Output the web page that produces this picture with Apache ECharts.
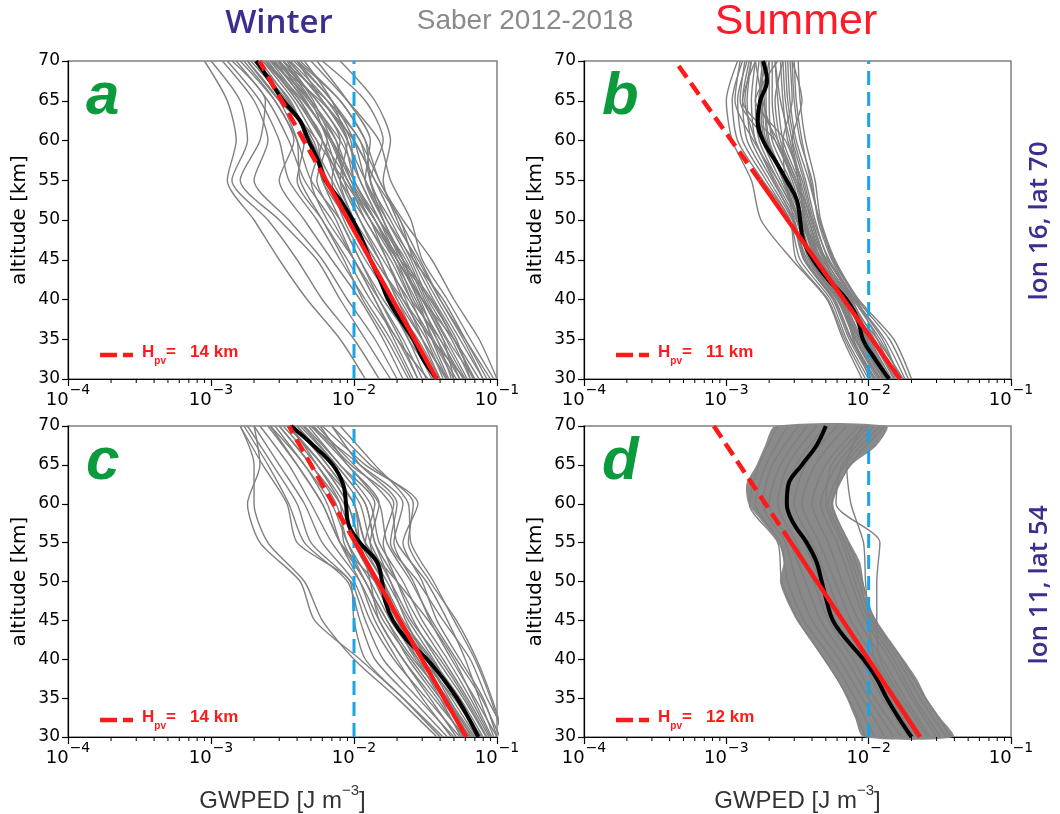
<!DOCTYPE html>
<html>
<head>
<meta charset="utf-8">
<script src="https://cdn.jsdelivr.net/npm/echarts@6/dist/echarts.min.js"></script>
<style>
  html, body { margin: 0; padding: 0; background: #fff; }
  #chart { width: 1060px; height: 814px; }
</style>
</head>
<body>
<div id="chart"></div>
<script>
// Altitude grids (km) for the individual profiles and for the mean profiles / band
const altitudes = [30, 35, 40, 45, 50, 55, 60, 65, 70];
const altitudesFine = [30, 32.5, 35, 37.5, 40, 42.5, 45, 47.5, 50, 52.5, 55, 57.5, 60, 62.5, 65, 67.5, 70];

// x-axis decades and minor tick values (J m^-3)
const majorTicks = [1e-4, 1e-3, 1e-2, 1e-1];
const minorTicks = [2e-4, 3e-4, 4e-4, 5e-4, 6e-4, 7e-4, 8e-4, 9e-4,
                    2e-3, 3e-3, 4e-3, 5e-3, 6e-3, 7e-3, 8e-3, 9e-3,
                    2e-2, 3e-2, 4e-2, 5e-2, 6e-2, 7e-2, 8e-2, 9e-2];
const altTicks = [30, 35, 40, 45, 50, 55, 60, 65, 70];

// Reference GWPED level
const threshold = 1e-2;

// Scale-height fits: GWPED at 30 km, scale height H (km); solid below knee, dashed above
const fitBase = [38e-3, 16.6e-3, 61e-3, 22.9e-3];
const scaleHeights = [14, 11, 14, 12];
const fitKnee = 55;
const fitBottom = 30;
const fitTop = 70;

// Mean profiles on altitudesFine
const meanA = [38e-3, 30.4e-3, 26e-3, 21e-3, 17.3e-3, 15.2e-3, 13e-3, 11.4e-3, 9.8e-3, 8.0e-3, 6.3e-3, 5.6e-3, 4.8e-3, 4.19e-3, 3.2e-3, 2.59e-3, 2.07e-3];
const meanB = [13.9e-3, 11.1e-3, 9.1e-3, 8.4e-3, 7.0e-3, 5.19e-3, 4.07e-3, 3.47e-3, 3.3e-3, 3.13e-3, 2.65e-3, 2.2e-3, 1.81e-3, 1.66e-3, 1.73e-3, 1.93e-3, 1.81e-3];
const meanC = [74e-3, 63e-3, 52.5e-3, 42e-3, 32.4e-3, 23.4e-3, 18.7e-3, 16.5e-3, 15.7e-3, 14.5e-3, 11e-3, 9.1e-3, 8.8e-3, 8.4e-3, 7.1e-3, 5.2e-3, 3.63e-3];
const meanD = [20e-3, 16.2e-3, 13.4e-3, 11.4e-3, 9.2e-3, 7.0e-3, 5.6e-3, 5.07e-3, 4.68e-3, 4.3e-3, 3.67e-3, 2.96e-3, 2.66e-3, 2.73e-3, 3.4e-3, 4.3e-3, 5.0e-3];

// Individual profiles on altitudes (30 ... 70 km)
const profilesA = [
  [90e-3, 60e-3, 40e-3, 28e-3, 19e-3, 14e-3, 10e-3, 6e-3, 3.5e-3],
  [70e-3, 50e-3, 35e-3, 22e-3, 15e-3, 11e-3, 8e-3, 5e-3, 3e-3],
  [60e-3, 42e-3, 30e-3, 20e-3, 14e-3, 9e-3, 7e-3, 4.5e-3, 2.8e-3],
  [55e-3, 40e-3, 25e-3, 18e-3, 12e-3, 9e-3, 6e-3, 4e-3, 2.5e-3],
  [50e-3, 35e-3, 24e-3, 16e-3, 11e-3, 8e-3, 6.5e-3, 5e-3, 3.2e-3],
  [45e-3, 30e-3, 20e-3, 15e-3, 10e-3, 7e-3, 5e-3, 3.5e-3, 2.2e-3],
  [40e-3, 28e-3, 18e-3, 13e-3, 9e-3, 6e-3, 5.5e-3, 3e-3, 1.8e-3],
  [35e-3, 25e-3, 16e-3, 11e-3, 8e-3, 5e-3, 4e-3, 2.8e-3, 1.6e-3],
  [30e-3, 22e-3, 15e-3, 10e-3, 7e-3, 4.5e-3, 3.5e-3, 2.5e-3, 1.5e-3],
  [25e-3, 18e-3, 12e-3, 8e-3, 5.5e-3, 3.5e-3, 3e-3, 2.2e-3, 1.3e-3],
  [20e-3, 14e-3, 9e-3, 6e-3, 3.5e-3, 2e-3, 2.5e-3, 2e-3, 1.2e-3],
  [15e-3, 10e-3, 6e-3, 4e-3, 2.5e-3, 1.4e-3, 1.8e-3, 1.6e-3, 1.0e-3],
  [12e-3, 8e-3, 4.7e-3, 3e-3, 2e-3, 1.3e-3, 1.5e-3, 1.3e-3, 0.9e-3],
  [100e-3, 75e-3, 50e-3, 35e-3, 22e-3, 15e-3, 12e-3, 8e-3, 4e-3],
  [95e-3, 65e-3, 45e-3, 30e-3, 25e-3, 18e-3, 15e-3, 9e-3, 5e-3],
  [80e-3, 55e-3, 38e-3, 27e-3, 20e-3, 16e-3, 18e-3, 14e-3, 8e-3],
  [65e-3, 48e-3, 33e-3, 25e-3, 18e-3, 13e-3, 16e-3, 12e-3, 6e-3],
  [58e-3, 40e-3, 28e-3, 22e-3, 16e-3, 12e-3, 10e-3, 7e-3, 3.8e-3],
  [48e-3, 38e-3, 26e-3, 20e-3, 15e-3, 11e-3, 9e-3, 6e-3, 3.5e-3],
  [42e-3, 32e-3, 22e-3, 17e-3, 12e-3, 8e-3, 6e-3, 4.2e-3, 2.6e-3],
  [38e-3, 24e-3, 18e-3, 12e-3, 8.5e-3, 7e-3, 8e-3, 5.5e-3, 3.0e-3],
  [33e-3, 20e-3, 14e-3, 10e-3, 6.5e-3, 5e-3, 6e-3, 4e-3, 2.4e-3],
  [28e-3, 20e-3, 13e-3, 9e-3, 6e-3, 4e-3, 4.5e-3, 3.6e-3, 2.0e-3],
  [22e-3, 16e-3, 11e-3, 7e-3, 4.5e-3, 3e-3, 3.8e-3, 2.8e-3, 1.7e-3],
  [18e-3, 12e-3, 8e-3, 5.5e-3, 3e-3, 1.6e-3, 2.2e-3, 2.4e-3, 1.4e-3],
  [60e-3, 35e-3, 22e-3, 14e-3, 10e-3, 8e-3, 9e-3, 6e-3, 4e-3],
  [75e-3, 50e-3, 30e-3, 20e-3, 14e-3, 10e-3, 8.5e-3, 5.5e-3, 3.2e-3],
  [85e-3, 60e-3, 42e-3, 26e-3, 17e-3, 12e-3, 9e-3, 7e-3, 4.5e-3],
  [52e-3, 36e-3, 27e-3, 19e-3, 13e-3, 9.5e-3, 7.5e-3, 4.8e-3, 2.9e-3],
  [44e-3, 30e-3, 21e-3, 14e-3, 9.5e-3, 6.5e-3, 5.2e-3, 3.4e-3, 2.0e-3],
  [70e-3, 45e-3, 32e-3, 24e-3, 17e-3, 13e-3, 11e-3, 6.5e-3, 3.2e-3],
  [65e-3, 52e-3, 36e-3, 26e-3, 21e-3, 14e-3, 10e-3, 5.8e-3, 2.7e-3],
  [50e-3, 42e-3, 30e-3, 22e-3, 16e-3, 13e-3, 12e-3, 8e-3, 4.2e-3],
  [45e-3, 33e-3, 25e-3, 19e-3, 14e-3, 10e-3, 7e-3, 4.4e-3, 2.4e-3],
  [40e-3, 30e-3, 23e-3, 17e-3, 13e-3, 9e-3, 6.8e-3, 4.6e-3, 3.0e-3],
  [36e-3, 27e-3, 20e-3, 15e-3, 11e-3, 8.5e-3, 7.5e-3, 5.0e-3, 2.6e-3],
  [32e-3, 24e-3, 17e-3, 13e-3, 10e-3, 7.5e-3, 6e-3, 4.2e-3, 2.3e-3],
  [28e-3, 21e-3, 15e-3, 11e-3, 8e-3, 6e-3, 5e-3, 3.3e-3, 1.9e-3],
  [26e-3, 19e-3, 14e-3, 10e-3, 7.5e-3, 5.5e-3, 6.5e-3, 4.5e-3, 2.7e-3],
  [24e-3, 17e-3, 11.5e-3, 8.5e-3, 6e-3, 4.2e-3, 4e-3, 3.0e-3, 1.8e-3],
  [55e-3, 38e-3, 29e-3, 21e-3, 16e-3, 12e-3, 13e-3, 9e-3, 5.5e-3],
  [62e-3, 44e-3, 31e-3, 23e-3, 15e-3, 10e-3, 9.5e-3, 6.5e-3, 3.6e-3],
  [80e-3, 58e-3, 40e-3, 29e-3, 21e-3, 15e-3, 11e-3, 7e-3, 4e-3],
  [68e-3, 50e-3, 34e-3, 21e-3, 14e-3, 9.5e-3, 7e-3, 5.2e-3, 3.4e-3],
  [46e-3, 35e-3, 28e-3, 20e-3, 13e-3, 8.5e-3, 5.5e-3, 3.8e-3, 2.3e-3]
];

const profilesB = [
  [20e-3, 15e-3, 8.5e-3, 5.8e-3, 4.6e-3, 4.2e-3, 3.6e-3, 3.3e-3, 3.2e-3],
  [18e-3, 13e-3, 8e-3, 5.5e-3, 4.4e-3, 4.0e-3, 3.3e-3, 3.0e-3, 2.9e-3],
  [17e-3, 12e-3, 7.8e-3, 5.2e-3, 4.2e-3, 3.6e-3, 3.0e-3, 2.7e-3, 2.6e-3],
  [16e-3, 11e-3, 7.5e-3, 5.0e-3, 4.0e-3, 3.4e-3, 2.7e-3, 2.5e-3, 2.4e-3],
  [15e-3, 10.5e-3, 7.2e-3, 4.8e-3, 3.8e-3, 3.2e-3, 2.5e-3, 2.3e-3, 2.2e-3],
  [14e-3, 10e-3, 7e-3, 4.5e-3, 3.6e-3, 3.0e-3, 2.3e-3, 2.1e-3, 2.1e-3],
  [13.5e-3, 9.5e-3, 6.8e-3, 4.4e-3, 3.5e-3, 2.8e-3, 2.1e-3, 2.0e-3, 2.0e-3],
  [13e-3, 9e-3, 6.6e-3, 4.2e-3, 3.4e-3, 2.6e-3, 2.0e-3, 1.9e-3, 1.9e-3],
  [12.5e-3, 8.6e-3, 6.4e-3, 4.0e-3, 3.3e-3, 2.4e-3, 1.8e-3, 1.7e-3, 1.8e-3],
  [12e-3, 8.2e-3, 6.2e-3, 3.9e-3, 3.2e-3, 2.3e-3, 1.7e-3, 1.6e-3, 1.7e-3],
  [11.5e-3, 8e-3, 6e-3, 3.8e-3, 3.1e-3, 2.2e-3, 1.6e-3, 1.5e-3, 1.6e-3],
  [11e-3, 7.6e-3, 5.8e-3, 3.6e-3, 3.0e-3, 2.1e-3, 1.5e-3, 1.4e-3, 1.5e-3],
  [10.5e-3, 7.3e-3, 5.6e-3, 3.5e-3, 2.9e-3, 2.0e-3, 1.4e-3, 1.3e-3, 1.45e-3],
  [10e-3, 7e-3, 5.4e-3, 3.3e-3, 2.8e-3, 1.9e-3, 1.3e-3, 1.2e-3, 1.4e-3],
  [9.5e-3, 6.8e-3, 5.2e-3, 3.1e-3, 2.8e-3, 1.8e-3, 1.2e-3, 1.1e-3, 1.3e-3],
  [9e-3, 6.6e-3, 5.1e-3, 2.9e-3, 1.75e-3, 1.5e-3, 1.1e-3, 1.0e-3, 1.2e-3],
  [15.5e-3, 11.5e-3, 8.2e-3, 5.6e-3, 4.5e-3, 3.8e-3, 3.1e-3, 2.8e-3, 2.7e-3],
  [14.5e-3, 10.2e-3, 7.6e-3, 4.9e-3, 3.9e-3, 3.3e-3, 2.6e-3, 1.6e-3, 2.3e-3],
  [13.8e-3, 9.8e-3, 7.1e-3, 4.6e-3, 3.7e-3, 3.1e-3, 2.4e-3, 2.2e-3, 2.5e-3],
  [12.8e-3, 8.8e-3, 6.5e-3, 4.3e-3, 3.45e-3, 2.7e-3, 1.9e-3, 1.8e-3, 2.0e-3],
  [11.8e-3, 8.1e-3, 6.1e-3, 3.85e-3, 3.15e-3, 2.5e-3, 1.95e-3, 1.85e-3, 1.75e-3],
  [10.8e-3, 7.5e-3, 5.7e-3, 3.55e-3, 2.95e-3, 2.15e-3, 1.6e-3, 1.35e-3, 1.5e-3],
  [16.5e-3, 12.5e-3, 8.0e-3, 5.3e-3, 4.1e-3, 3.5e-3, 2.9e-3, 2.6e-3, 2.5e-3],
  [19e-3, 14e-3, 8.3e-3, 5.7e-3, 4.5e-3, 3.9e-3, 3.4e-3, 3.1e-3, 3.0e-3],
  [12.2e-3, 8.4e-3, 6.3e-3, 4.1e-3, 3.25e-3, 2.55e-3, 1.85e-3, 1.75e-3, 1.85e-3],
  [14.2e-3, 9.6e-3, 7.4e-3, 4.7e-3, 3.5e-3, 2.9e-3, 2.2e-3, 1.3e-3, 1.6e-3],
  [13.2e-3, 9.3e-3, 6.9e-3, 4.5e-3, 3.6e-3, 3.2e-3, 2.8e-3, 2.4e-3, 2.2e-3],
  [12.7e-3, 8.7e-3, 6.0e-3, 3.7e-3, 3.0e-3, 2.6e-3, 2.5e-3, 2.9e-3, 2.8e-3],
  [15.2e-3, 10.8e-3, 6.7e-3, 4.4e-3, 3.3e-3, 2.5e-3, 1.9e-3, 1.25e-3, 1.35e-3],
  [11.2e-3, 7.8e-3, 6.9e-3, 4.6e-3, 3.8e-3, 3.0e-3, 2.2e-3, 1.8e-3, 1.6e-3],
  [17.5e-3, 11.5e-3, 7.0e-3, 4.3e-3, 3.5e-3, 3.3e-3, 2.9e-3, 3.4e-3, 2.9e-3],
  [13.0e-3, 9.7e-3, 7.7e-3, 5.1e-3, 3.3e-3, 2.3e-3, 1.55e-3, 1.15e-3, 1.25e-3],
  [10.2e-3, 7.8e-3, 6.5e-3, 4.9e-3, 4.0e-3, 3.1e-3, 2.3e-3, 1.7e-3, 1.9e-3]
];

const profilesC = [
  [100e-3, 80e-3, 55e-3, 38e-3, 30e-3, 22e-3, 28e-3, 12e-3, 6e-3],
  [110e-3, 90e-3, 70e-3, 50e-3, 36e-3, 25e-3, 24e-3, 14e-3, 8e-3],
  [95e-3, 75e-3, 60e-3, 45e-3, 32e-3, 20e-3, 18e-3, 10e-3, 5.5e-3],
  [90e-3, 65e-3, 45e-3, 30e-3, 22e-3, 15e-3, 13e-3, 8e-3, 4.5e-3],
  [85e-3, 60e-3, 40e-3, 25e-3, 18e-3, 13e-3, 11e-3, 7e-3, 4e-3],
  [80e-3, 55e-3, 35e-3, 22e-3, 16e-3, 11e-3, 9e-3, 6e-3, 3.5e-3],
  [75e-3, 50e-3, 30e-3, 20e-3, 15e-3, 10e-3, 8e-3, 5e-3, 3e-3],
  [70e-3, 45e-3, 28e-3, 18e-3, 13e-3, 9e-3, 7e-3, 4.5e-3, 2.8e-3],
  [65e-3, 40e-3, 25e-3, 16e-3, 12e-3, 8e-3, 6e-3, 4e-3, 2.5e-3],
  [60e-3, 36e-3, 22e-3, 15e-3, 11e-3, 7e-3, 5e-3, 3.5e-3, 2.2e-3],
  [55e-3, 32e-3, 19e-3, 13e-3, 10e-3, 6e-3, 4.5e-3, 3e-3, 2e-3],
  [50e-3, 28e-3, 16e-3, 12e-3, 9.5e-3, 5e-3, 4e-3, 2.7e-3, 1.8e-3],
  [45e-3, 25e-3, 14e-3, 11e-3, 9e-3, 4.5e-3, 3.5e-3, 2.5e-3, 1.7e-3],
  [40e-3, 22e-3, 12e-3, 10e-3, 9.4e-3, 4e-3, 3.4e-3, 2.3e-3, 1.6e-3],
  [38e-3, 20e-3, 10e-3, 6e-3, 4.5e-3, 2.5e-3, 2.0e-3, 2.0e-3, 1.6e-3],
  [42e-3, 22e-3, 11e-3, 5.3e-3, 4.2e-3, 2.2e-3, 1.8e-3, 2.2e-3, 2.0e-3],
  [120e-3, 85e-3, 65e-3, 42e-3, 28e-3, 18e-3, 20e-3, 11e-3, 7e-3],
  [105e-3, 78e-3, 52e-3, 35e-3, 25e-3, 17e-3, 15e-3, 9e-3, 5e-3],
  [88e-3, 62e-3, 42e-3, 28e-3, 20e-3, 14e-3, 12e-3, 7.5e-3, 4.2e-3],
  [78e-3, 52e-3, 36e-3, 24e-3, 17e-3, 12e-3, 10e-3, 6.5e-3, 3.8e-3],
  [68e-3, 44e-3, 30e-3, 20e-3, 14e-3, 10e-3, 8.5e-3, 5.5e-3, 3.2e-3],
  [58e-3, 38e-3, 24e-3, 17e-3, 12e-3, 9e-3, 7.5e-3, 5e-3, 3e-3],
  [48e-3, 30e-3, 20e-3, 14e-3, 11e-3, 8e-3, 6.5e-3, 4.5e-3, 2.6e-3],
  [112e-3, 92e-3, 72e-3, 52e-3, 34e-3, 24e-3, 26e-3, 13e-3, 7e-3],
  [62e-3, 42e-3, 27e-3, 19e-3, 14e-3, 11e-3, 10e-3, 6e-3, 3.5e-3],
  [72e-3, 48e-3, 32e-3, 21e-3, 16e-3, 12e-3, 14e-3, 8e-3, 4.8e-3],
  [100e-3, 70e-3, 48e-3, 34e-3, 26e-3, 19e-3, 22e-3, 11e-3, 5e-3],
  [92e-3, 68e-3, 50e-3, 33e-3, 20e-3, 12e-3, 10e-3, 6.5e-3, 4e-3],
  [84e-3, 58e-3, 38e-3, 26e-3, 20e-3, 16e-3, 19e-3, 9.5e-3, 5.2e-3],
  [66e-3, 46e-3, 32e-3, 23e-3, 18e-3, 14e-3, 12e-3, 7.5e-3, 4.4e-3],
  [56e-3, 40e-3, 28e-3, 20e-3, 16e-3, 13e-3, 15e-3, 9e-3, 5.8e-3],
  [74e-3, 52e-3, 34e-3, 21e-3, 14e-3, 8e-3, 6e-3, 4e-3, 2.6e-3],
  [64e-3, 44e-3, 26e-3, 17e-3, 12e-3, 8.5e-3, 8e-3, 5.5e-3, 3.6e-3],
  [52e-3, 34e-3, 22e-3, 15e-3, 13e-3, 11e-3, 9e-3, 6e-3, 3.4e-3]
];

const profilesD = [
  [38e-3, 25e-3, 17e-3, 11e-3, 9e-3, 7.2e-3, 5.5e-3, 7.4e-3, 13e-3],
  [35e-3, 23e-3, 16e-3, 10.5e-3, 8.5e-3, 6.8e-3, 5.2e-3, 6.8e-3, 12e-3],
  [30e-3, 20e-3, 14e-3, 9.5e-3, 7.5e-3, 6e-3, 4.6e-3, 6e-3, 10e-3],
  [27e-3, 18e-3, 12.5e-3, 8.5e-3, 6.5e-3, 5.2e-3, 4e-3, 5e-3, 8.5e-3],
  [24e-3, 16e-3, 11e-3, 7.5e-3, 5.8e-3, 4.5e-3, 3.4e-3, 4.2e-3, 7e-3],
  [21e-3, 14e-3, 9.8e-3, 6.6e-3, 5.2e-3, 4e-3, 3e-3, 3.6e-3, 6e-3],
  [19e-3, 12.5e-3, 8.8e-3, 5.8e-3, 4.6e-3, 3.5e-3, 2.6e-3, 3.1e-3, 5e-3],
  [17e-3, 11e-3, 7.8e-3, 5.2e-3, 4.1e-3, 3.1e-3, 2.3e-3, 2.7e-3, 4.3e-3],
  [15e-3, 10e-3, 7e-3, 4.6e-3, 3.6e-3, 2.8e-3, 2.0e-3, 2.4e-3, 3.7e-3],
  [13e-3, 9e-3, 6.2e-3, 4e-3, 3.1e-3, 2.6e-3, 1.8e-3, 2.1e-3, 3.2e-3],
  [11e-3, 8e-3, 5.5e-3, 3.5e-3, 2.7e-3, 2.4e-3, 1.6e-3, 1.9e-3, 2.7e-3],
  [9.5e-3, 7.2e-3, 4.9e-3, 3.2e-3, 2.45e-3, 2.3e-3, 1.45e-3, 1.7e-3, 2.3e-3],
  [26e-3, 17e-3, 12e-3, 11.4e-3, 11.4e-3, 12e-3, 5.9e-3, 6.5e-3, 11e-3],
  [22e-3, 15e-3, 11e-3, 10e-3, 9.5e-3, 9.2e-3, 7.5e-3, 7e-3, 9e-3],
  [32e-3, 21e-3, 15e-3, 10e-3, 8e-3, 6.5e-3, 5e-3, 5.5e-3, 9.5e-3]
];

// Outer edges of the dense profile band in panel d (on altitudesFine)
const bandLeftD = [9.2e-3, 8.0e-3, 7.0e-3, 5.96e-3, 4.8e-3, 3.88e-3, 3.12e-3, 2.66e-3, 2.38e-3, 2.52e-3, 2.32e-3, 1.82e-3, 1.43e-3, 1.38e-3, 1.63e-3, 1.87e-3, 2.2e-3];
const bandRightD = [39.4e-3, 31.8e-3, 25.6e-3, 21.8e-3, 17.6e-3, 14.1e-3, 11.4e-3, 9.7e-3, 9.2e-3, 8.7e-3, 7.4e-3, 6.3e-3, 5.65e-3, 6.3e-3, 7.6e-3, 11.4e-3, 13.4e-3];

const panelLetters = ['a', 'b', 'c', 'd'];
const seasons = ['Winter', 'Summer'];
const sites = ['lon 16, lat 70', 'lon 11, lat 54'];
const datasetTitle = 'Saber 2012-2018';

const profiles = [profilesA, profilesB, profilesC, profilesD];
const means = [meanA, meanB, meanC, meanD];

const GRAY = '#808080';
const RED = '#ff1a1a';
const BLUE = '#1aa3e6';
const GREEN = '#0b9a3c';
const PURPLE = '#3b2e8c';
const TICK_FONT = 'DejaVu Sans';

const grids = [
  { left: 68, top: 61, width: 429, height: 318 },
  { left: 584, top: 61, width: 427, height: 318 },
  { left: 68, top: 426, width: 429, height: 318 },
  { left: 584, top: 426, width: 427, height: 318 }
].map(g => Object.assign({ show: true, borderColor: GRAY, borderWidth: 1.5, backgroundColor: 'transparent' }, g));

function decadeLabel(v) {
  const e = Math.round(Math.log10(v));
  return '{b|10}{s|' + (e < 0 ? '\u2212' : '') + Math.abs(e) + '}';
}

const tickRich = {
  b: { fontFamily: TICK_FONT, fontSize: 18, color: '#000', lineHeight: 26, verticalAlign: 'bottom' },
  s: { fontFamily: TICK_FONT, fontSize: 14, color: '#000', lineHeight: 26, verticalAlign: 'top', padding: [0, 0, 0, 1] }
};

const xAxes = grids.map((g, i) => ({
  type: 'log', logBase: 10, gridIndex: i, min: majorTicks[0], max: majorTicks[majorTicks.length - 1],
  splitNumber: majorTicks.length - 1,
  axisLine: { show: true, lineStyle: { color: '#000', width: 1.2 } },
  axisTick: { show: true, length: 7, lineStyle: { color: '#000', width: 1.2 } },
  splitLine: { show: false },
  axisLabel: { margin: 4, formatter: decadeLabel, rich: tickRich, showMinLabel: true, showMaxLabel: true },
  name: i >= 2 ? '{n|GWPED [J m}{e|\u22123}{n|]}' : '',
  nameLocation: 'middle', nameGap: 46,
  nameTextStyle: {
    rich: {
      n: { fontFamily: 'Liberation Sans', fontSize: 24, color: '#333', lineHeight: 30, verticalAlign: 'bottom' },
      e: { fontFamily: 'Liberation Sans', fontSize: 15, color: '#333', lineHeight: 30, verticalAlign: 'top' }
    }
  }
}));

const yAxes = grids.map((g, i) => ({
  type: 'value', gridIndex: i, min: altTicks[0], max: altTicks[altTicks.length - 1], interval: 5,
  axisLine: { show: true, lineStyle: { color: '#000', width: 1.2 } },
  axisTick: { show: true, length: 6, lineStyle: { color: '#000', width: 1.2 } },
  splitLine: { show: false },
  axisLabel: { margin: 8, fontFamily: TICK_FONT, fontSize: 17, color: '#000' },
  name: 'altitude [km]', nameLocation: 'middle', nameGap: 38,
  nameTextStyle: { fontFamily: TICK_FONT, fontSize: 20, color: '#000' }
}));

const series = [];

// Band fill for the dense profile set of panel d
series.push({
  type: 'custom', xAxisIndex: 3, yAxisIndex: 3, silent: true, z: 1,
  data: [[bandLeftD[8], altitudesFine[8]]],
  renderItem: function (params, api) {
    const pts = [];
    for (let i = 0; i < altitudesFine.length; i++) pts.push(api.coord([bandLeftD[i], altitudesFine[i]]));
    for (let i = altitudesFine.length - 1; i >= 0; i--) pts.push(api.coord([bandRightD[i], altitudesFine[i]]));
    return { type: 'polygon', shape: { points: pts, smooth: 0.25 }, style: { fill: '#8a8a8a' } };
  }
});

profiles.forEach((set, p) => {
  set.forEach(prof => {
    series.push({
      type: 'line', xAxisIndex: p, yAxisIndex: p, silent: true, z: 2,
      symbol: 'none', smooth: 0.25, clip: true,
      lineStyle: { color: GRAY, width: 1.4 },
      data: prof.map((v, k) => [v, altitudes[k]])
    });
  });

  // reference level
  series.push({
    type: 'line', xAxisIndex: p, yAxisIndex: p, silent: true, z: 3, symbol: 'none',
    lineStyle: { color: BLUE, width: 3, type: [14, 7] },
    data: [[threshold, fitBottom], [threshold, fitTop]]
  });

  // mean profile
  series.push({
    type: 'line', xAxisIndex: p, yAxisIndex: p, silent: true, z: 4, symbol: 'none', smooth: 0.4,
    lineStyle: { color: '#000', width: 4 },
    data: means[p].map((v, k) => [v, altitudesFine[k]])
  });

  // exponential fit with scale height H
  const H = scaleHeights[p];
  const v0 = fitBase[p];
  const vKnee = v0 * Math.exp(-(fitKnee - fitBottom) / H);
  const vTop = v0 * Math.exp(-(fitTop - fitBottom) / H);
  series.push({
    type: 'line', xAxisIndex: p, yAxisIndex: p, silent: true, z: 5, symbol: 'none',
    lineStyle: { color: RED, width: 4.5 },
    data: [[v0, fitBottom], [vKnee, fitKnee]]
  });
  series.push({
    type: 'line', xAxisIndex: p, yAxisIndex: p, silent: true, z: 5, symbol: 'none',
    lineStyle: { color: RED, width: 4.5, type: [14, 7] },
    data: [[vKnee, fitKnee], [vTop, fitTop]]
  });

  // log minor ticks
  series.push({
    type: 'custom', xAxisIndex: p, yAxisIndex: p, silent: true, z: 6,
    data: minorTicks.map(v => [v, altTicks[0]]),
    renderItem: function (params, api) {
      const pt = api.coord([api.value(0), api.value(1)]);
      return { type: 'line', shape: { x1: pt[0], y1: pt[1], x2: pt[0], y2: pt[1] + 4 },
               style: { stroke: '#000', lineWidth: 1 } };
    }
  });
});

// Annotations
const graphic = [];
graphic.push({ type: 'text', x: 279, y: 24, style: { text: seasons[0], font: '600 33px "Open Sans"', fill: PURPLE, textAlign: 'center', textVerticalAlign: 'middle' } });
graphic.push({ type: 'text', x: 525, y: 21, style: { text: datasetTitle, font: '28px "Liberation Sans"', fill: '#8a8a8a', textAlign: 'center', textVerticalAlign: 'middle' } });
graphic.push({ type: 'text', x: 796, y: 22, style: { text: seasons[1], font: '43px "Liberation Sans"', fill: '#ff1a2a', textAlign: 'center', textVerticalAlign: 'middle' } });
graphic.push({ type: 'text', x: 1040, y: 221, rotation: Math.PI / 2, style: { text: sites[0], font: '600 26px "Open Sans"', fill: PURPLE, textAlign: 'center', textVerticalAlign: 'middle' } });
graphic.push({ type: 'text', x: 1040, y: 585, rotation: Math.PI / 2, style: { text: sites[1], font: '600 26px "Open Sans"', fill: PURPLE, textAlign: 'center', textVerticalAlign: 'middle' } });

grids.forEach((g, i) => {
  graphic.push({ type: 'text', x: g.left + 18, y: g.top + 36, style: {
    text: panelLetters[i], font: 'italic bold 60px "Liberation Sans"', fill: GREEN, textAlign: 'left', textVerticalAlign: 'middle' } });
  const ly = g.top + g.height - 24;
  graphic.push({ type: 'line', shape: { x1: g.left + 32, y1: ly, x2: g.left + 65, y2: ly },
    style: { stroke: RED, lineWidth: 4.5, lineDash: [17, 6] } });
  graphic.push({ type: 'text', x: g.left + 74, y: ly, style: {
    text: '{h|H}{s|pv}{h|=   ' + scaleHeights[i] + ' km}', textAlign: 'left', textVerticalAlign: 'middle',
    rich: {
      h: { fontFamily: 'Liberation Sans', fontWeight: 'bold', fontSize: 17, fill: RED, lineHeight: 22, verticalAlign: 'top' },
      s: { fontFamily: 'Liberation Sans', fontWeight: 'bold', fontSize: 10, fill: RED, lineHeight: 22, verticalAlign: 'bottom' }
    } } });
});

const chart = echarts.init(document.getElementById('chart'), null, { renderer: 'canvas' });
chart.setOption({
  animation: false,
  backgroundColor: '#fff',
  grid: grids,
  xAxis: xAxes,
  yAxis: yAxes,
  series: series,
  graphic: graphic
});
</script>
</body>
</html>
